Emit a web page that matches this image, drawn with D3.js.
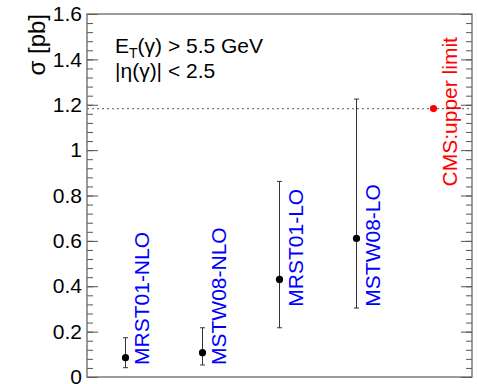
<!DOCTYPE html>
<html><head><meta charset="utf-8">
<script src="https://cdn.jsdelivr.net/npm/d3@7"></script>
<style>body{margin:0;background:#fff}svg{display:block;font-family:"Liberation Sans",Arial,sans-serif}</style>
</head><body><svg id="c" width="477" height="384"></svg>
<script>
const categories = ["MRST01-NLO","MSTW08-NLO","MRST01-LO","MSTW08-LO","CMS:upper limit"];
const values = [0.085, 0.107, 0.430, 0.611, 1.183];
const errLow = [0.041, 0.053, 0.217, 0.304, null];
const errHigh = [0.173, 0.217, 0.862, 1.225, null];
const labelStart = [0.053, 0.053, 0.31, 0.31, 0.84];
const labelColors = ["#0000ff","#0000ff","#0000ff","#0000ff","#ff0000"];
const pointColors = ["#000","#000","#000","#000","#ff0000"];
const upperLimit = 1.183;
const yTicks = [0, 0.2, 0.4, 0.6, 0.8, 1, 1.2, 1.4, 1.6];

const svg = d3.select("#c");
const m = {l:87, r:5, t:14, b:7};
const W = 477, H = 384;
const x = d3.scaleBand().domain(categories).range([m.l, W-m.r]);
const y = d3.scaleLinear().domain([0, 1.6]).range([H-m.b, m.t]);

// minor ticks
const minor = d3.range(0, 1.6001, 0.04);
const gl = svg.append("g").attr("transform",`translate(${m.l},0)`).call(d3.axisLeft(y).tickValues(minor).tickSize(-6).tickFormat(""));
const gr = svg.append("g").attr("transform",`translate(${W-m.r},0)`).call(d3.axisRight(y).tickValues(minor).tickSize(-6).tickFormat(""));
const glM = svg.append("g").attr("transform",`translate(${m.l},0)`).call(d3.axisLeft(y).tickValues(yTicks).tickSize(-11).tickPadding(5).tickFormat(d=>d3.format("")(+d.toFixed(1))));
const grM = svg.append("g").attr("transform",`translate(${W-m.r},0)`).call(d3.axisRight(y).tickValues(yTicks).tickSize(-11).tickFormat(""));
[gl,gr,glM,grM].forEach(g=>{g.select(".domain").remove();g.selectAll(".tick line").attr("stroke","#555").attr("stroke-width",1);});
glM.selectAll(".tick text").attr("font-size",21).attr("fill","#000").attr("font-family","Liberation Sans, Arial, sans-serif");

// frame
svg.append("rect").attr("x",m.l).attr("y",m.t).attr("width",W-m.r-m.l).attr("height",H-m.b-m.t)
  .attr("fill","none").attr("stroke","#666").attr("stroke-width",1.3);

// upper limit line
svg.append("line").attr("x1",m.l).attr("x2",W-m.r).attr("y1",y(upperLimit)).attr("y2",y(upperLimit))
  .attr("stroke","#777").attr("stroke-width",1.2).attr("stroke-dasharray","2,3");

const cx = d => x(d)+x.bandwidth()/2;
categories.forEach((c,i)=>{
  if(errLow[i]!=null){
    svg.append("line").attr("x1",cx(c)).attr("x2",cx(c)).attr("y1",y(errLow[i])).attr("y2",y(errHigh[i])).attr("stroke","#333").attr("stroke-width",1);
    [errLow[i],errHigh[i]].forEach(v=>svg.append("line").attr("x1",cx(c)-2.5).attr("x2",cx(c)+2.5).attr("y1",y(v)).attr("y2",y(v)).attr("stroke","#333").attr("stroke-width",1));
  }
  svg.append("circle").attr("cx",cx(c)).attr("cy",y(values[i])).attr("r",3.6).attr("fill",pointColors[i]);
  svg.append("text").attr("transform",`translate(${cx(c)+23},${y(labelStart[i])}) rotate(-90)`)
    .attr("font-size",21).attr("fill",labelColors[i]).text(c);
});

// annotation
const t1 = svg.append("text").attr("x",115).attr("y",53).attr("font-size",21).attr("fill","#000");
t1.append("tspan").text("E");
t1.append("tspan").attr("font-size",14).attr("dy",5).text("T");
t1.append("tspan").attr("dy",-5).text("(γ) > 5.5 GeV");
svg.append("text").attr("x",115).attr("y",78).attr("font-size",21).attr("fill","#000").text("|η(γ)| < 2.5");

// y label
svg.append("text").attr("transform",`translate(45,14) rotate(-90)`).attr("text-anchor","end")
  .attr("font-size",24).attr("fill","#000").text("σ [pb]");
</script></body></html>
